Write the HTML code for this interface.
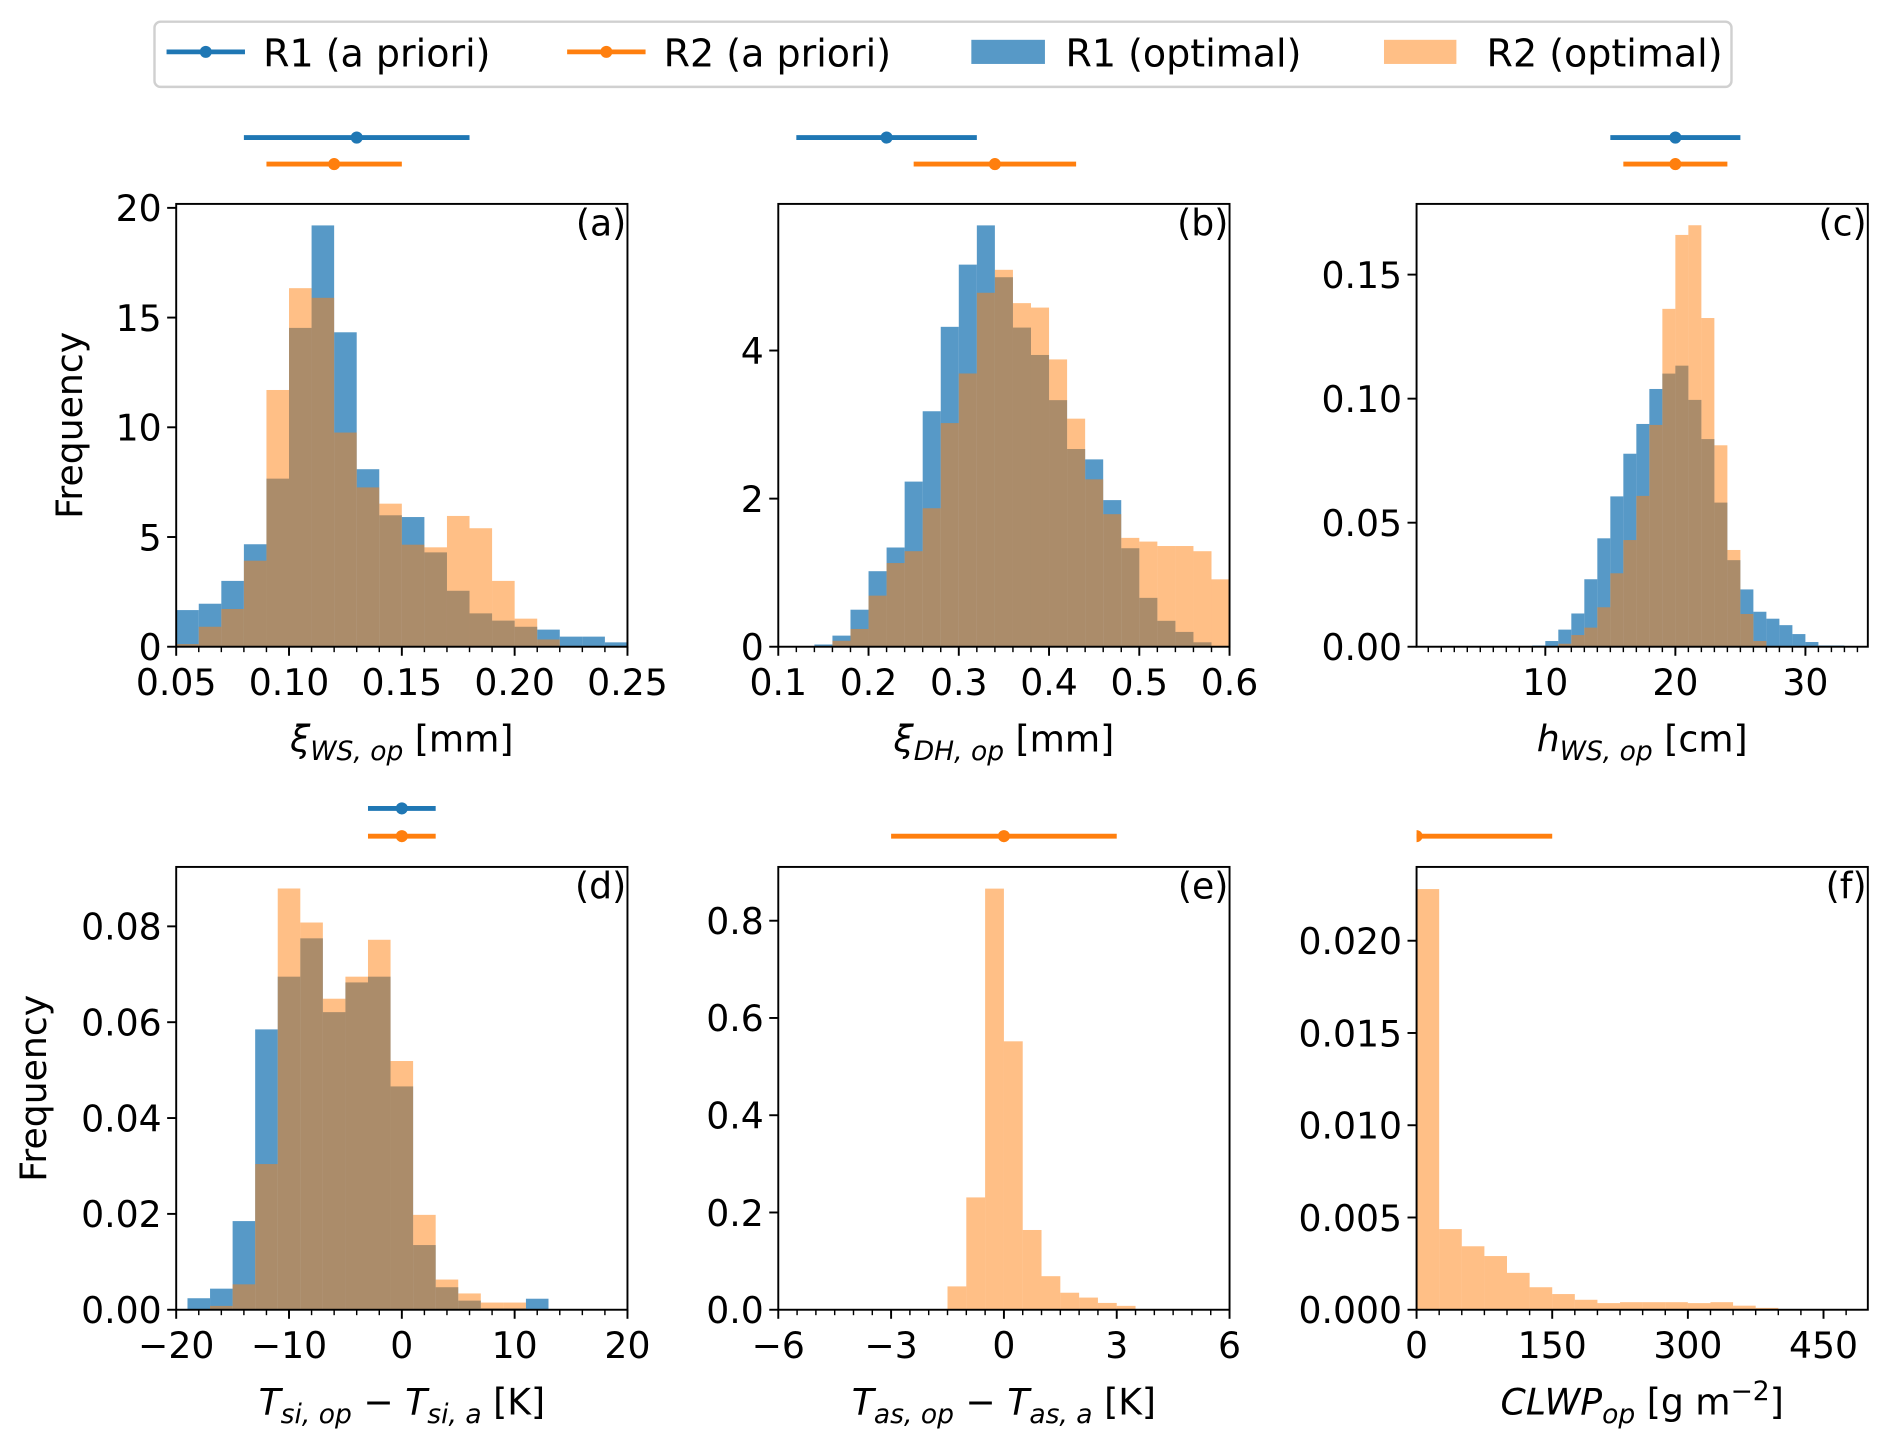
<!DOCTYPE html>
<html><head><meta charset="utf-8">
<style>
html,body{margin:0;padding:0;background:#fff;}
svg{display:block;font-family:"DejaVu Sans","Liberation Sans",sans-serif;}
</style></head>
<body>
<svg id="fig" width="1892" height="1452" viewBox="0 0 1568 1203.4" xmlns="http://www.w3.org/2000/svg">
<defs></defs>
<g id="legend">
  <rect x="128" y="18" width="1307" height="54" rx="5" fill="#fff" stroke="#d0d0d0" stroke-width="2"/>
  <g>
    <line x1="138" y1="43" x2="203" y2="43" stroke="#1f77b4" stroke-width="4"/>
    <circle cx="170.5" cy="43" r="5" fill="#1f77b4"/>
    <text x="218" y="55" font-size="31.5">R1 (a priori)</text>
  </g>
  <g>
    <line x1="470" y1="43" x2="535" y2="43" stroke="#ff7f0e" stroke-width="4"/>
    <circle cx="502.5" cy="43" r="5" fill="#ff7f0e"/>
    <text x="550" y="55" font-size="31.5">R2 (a priori)</text>
  </g>
  <g>
    <rect x="805" y="33" width="61" height="20" fill="#1f77b4" fill-opacity="0.75"/>
    <text x="883" y="55" font-size="31.5">R1 (optimal)</text>
  </g>
  <g>
    <rect x="1147" y="33" width="60" height="20" fill="#ff7f0e" fill-opacity="0.5"/>
    <text x="1232" y="55" font-size="31.5">R2 (optimal)</text>
  </g>
</g>
</svg>
<script>
// ---- data ----
const aBinStart = 0.05, aBinWidth = 0.01;
const aR1 = [1.67,1.96,3.0,4.67,7.66,14.53,19.2,14.33,8.09,5.99,5.91,4.3,2.55,1.52,1.19,0.91,0.78,0.46,0.46,0.2];
const aR2 = [0.12,0.91,1.72,3.92,11.7,16.34,15.9,9.76,7.26,6.52,4.65,4.53,5.96,5.4,3.0,1.28,0.33,0,0,0];
const bBinStart = 0.10, bBinWidth = 0.02;
const bR1 = [0,0,0.03,0.15,0.5,1.02,1.34,2.23,3.18,4.32,5.16,5.69,4.99,4.31,3.94,3.33,2.67,2.53,1.98,1.33,0.66,0.35,0.2,0.06,0];
const bR2 = [0,0,0,0.08,0.24,0.69,1.13,1.29,1.87,3.02,3.69,4.78,5.09,4.64,4.58,3.88,3.08,2.26,1.79,1.47,1.42,1.36,1.36,1.29,0.91];
const cBinStart = 9, cBinWidth = 1;
const cR1 = [0.0005,0.0023,0.0069,0.0134,0.0272,0.0437,0.0606,0.0778,0.0898,0.1039,0.1101,0.1133,0.0995,0.0837,0.0581,0.0349,0.0231,0.0141,0.0113,0.0087,0.0051,0.0019,0.0005,0.0005];
const cR2 = [0,0,0.0012,0.0047,0.0077,0.0159,0.0296,0.043,0.0608,0.0894,0.1362,0.166,0.1699,0.1325,0.0812,0.039,0.0132,0.0023,0,0,0,0,0,0];
const dBinStart = -19, dBinWidth = 2;
const dR1 = [0.0024,0.0044,0.0185,0.0585,0.0695,0.0775,0.0621,0.0683,0.0695,0.0466,0.0135,0.0047,0.0019,0.0003,0.0003,0.0023];
const dR2 = [0,0.0008,0.0053,0.0304,0.0879,0.0808,0.0649,0.0695,0.0772,0.0519,0.0198,0.0063,0.0034,0.0015,0.0015,0];
const eBinStart = -1.5, eBinWidth = 0.5;
const eR2 = [0.048,0.231,0.866,0.552,0.164,0.069,0.035,0.025,0.014,0.008];
const fBinStart = 0, fBinWidth = 25;
const fR2 = [0.0228,0.00437,0.00344,0.00291,0.002,0.00122,0.00085,0.00054,0.00036,0.00041,0.00041,0.00041,0.00036,0.00041,0.00022,0.0001];
// a priori (center, half-width) for R1 and R2 per panel
const aprioriR1 = [[0.13,0.05],[0.22,0.10],[20,5],[0,3],null,null];
const aprioriR2 = [[0.12,0.03],[0.34,0.09],[20,4],[0,3],[0,3],[0,150]];
// ticks
const aXTicks = [0.05,0.10,0.15,0.20,0.25], aXLabels = ["0.05","0.10","0.15","0.20","0.25"];
const aYTicks = [0,5,10,15,20], aYLabels = ["0","5","10","15","20"];
const bXTicks = [0.1,0.2,0.3,0.4,0.5,0.6], bXLabels = ["0.1","0.2","0.3","0.4","0.5","0.6"];
const bYTicks = [0,2,4], bYLabels = ["0","2","4"];
const cXTicks = [10,20,30], cXLabels = ["10","20","30"];
const cYTicks = [0,0.05,0.10,0.15], cYLabels = ["0.00","0.05","0.10","0.15"];
const dXTicks = [-20,-10,0,10,20], dXLabels = ["\u221220","\u221210","0","10","20"];
const dYTicks = [0,0.02,0.04,0.06,0.08], dYLabels = ["0.00","0.02","0.04","0.06","0.08"];
const eXTicks = [-6,-3,0,3,6], eXLabels = ["\u22126","\u22123","0","3","6"];
const eYTicks = [0,0.2,0.4,0.6,0.8], eYLabels = ["0.0","0.2","0.4","0.6","0.8"];
const fXTicks = [0,150,300,450], fXLabels = ["0","150","300","450"];
const fYTicks = [0,0.005,0.010,0.015,0.020], fYLabels = ["0.000","0.005","0.010","0.015","0.020"];

// ---- layout ----
const NS = "http://www.w3.org/2000/svg";
const svg = document.getElementById('fig');
const defs = svg.querySelector('defs');
const W = 374, H = 367, FS = 30;
const panels = [
 {id:'a',x0:146,y0:169,xlim:[0.05,0.25],ylim:[0,20.18],bs:aBinStart,bw:aBinWidth,r1:aR1,r2:aR2,xt:aXTicks,xl:aXLabels,yt:aYTicks,yl:aYLabels,minor:0.01,ylab:58},
 {id:'b',x0:645,y0:169,xlim:[0.1,0.6],ylim:[0,5.98],bs:bBinStart,bw:bBinWidth,r1:bR1,r2:bR2,xt:bXTicks,xl:bXLabels,yt:bYTicks,yl:bYLabels,minor:0.02},
 {id:'c',x0:1174,y0:169,xlim:[0.1,34.8],ylim:[0,0.1785],bs:cBinStart,bw:cBinWidth,r1:cR1,r2:cR2,xt:cXTicks,xl:cXLabels,yt:cYTicks,yl:cYLabels,minor:1},
 {id:'d',x0:146,y0:718.5,xlim:[-20,20],ylim:[0,0.0924],bs:dBinStart,bw:dBinWidth,r1:dR1,r2:dR2,xt:dXTicks,xl:dXLabels,yt:dYTicks,yl:dYLabels,minor:2,ylab:28},
 {id:'e',x0:645,y0:718.5,xlim:[-6,6],ylim:[0,0.9106],bs:eBinStart,bw:eBinWidth,r1:null,r2:eR2,xt:eXTicks,xl:eXLabels,yt:eYTicks,yl:eYLabels,minor:0.5},
 {id:'f',x0:1174,y0:718.5,xlim:[0,499],ylim:[0,0.024],bs:fBinStart,bw:fBinWidth,r1:null,r2:fR2,xt:fXTicks,xl:fXLabels,yt:fYTicks,yl:fYLabels,minor:25}
];
const xLabelsHTML = [
 '<tspan font-style="italic">ξ</tspan><tspan font-style="italic" font-size="22" dy="7">WS, op</tspan><tspan dy="-7"> [mm]</tspan>',
 '<tspan font-style="italic">ξ</tspan><tspan font-style="italic" font-size="22" dy="7">DH, op</tspan><tspan dy="-7"> [mm]</tspan>',
 '<tspan font-style="italic">h</tspan><tspan font-style="italic" font-size="22" dy="7">WS, op</tspan><tspan dy="-7"> [cm]</tspan>',
 '<tspan font-style="italic">T</tspan><tspan font-style="italic" font-size="22" dy="7">si, op</tspan><tspan dy="-7"> − </tspan><tspan font-style="italic">T</tspan><tspan font-style="italic" font-size="22" dy="7">si, a</tspan><tspan dy="-7"> [K]</tspan>',
 '<tspan font-style="italic">T</tspan><tspan font-style="italic" font-size="22" dy="7">as, op</tspan><tspan dy="-7"> − </tspan><tspan font-style="italic">T</tspan><tspan font-style="italic" font-size="22" dy="7">as, a</tspan><tspan dy="-7"> [K]</tspan>',
 '<tspan font-style="italic">CLWP</tspan><tspan font-style="italic" font-size="22" dy="7">op</tspan><tspan dy="-7"> [g m</tspan><tspan font-size="22" dy="-12">−2</tspan><tspan dy="12">]</tspan>'
];

function mk(tag, attrs, parent){
  const e = document.createElementNS(NS, tag);
  for (const k in attrs) e.setAttribute(k, attrs[k]);
  parent.appendChild(e);
  return e;
}
function sx(p,v){return p.x0+(v-p.xlim[0])/(p.xlim[1]-p.xlim[0])*W;}
function sy(p,v){return p.y0+H-(v-p.ylim[0])/(p.ylim[1]-p.ylim[0])*H;}

panels.forEach((p,i)=>{
  const g = mk('g',{},svg);
  
  
  const cp = mk('clipPath',{id:'clip-'+p.id},defs);
  mk('rect',{x:p.x0,y:p.y0,width:W,height:H},cp);
  const cpe = mk('clipPath',{id:'clipe-'+p.id},defs);
  mk('rect',{x:p.x0,y:p.y0-120,width:W,height:120},cpe);
  const bars = mk('g',{'clip-path':'url(#clip-'+p.id+')'},g);
  
  
  [[p.r1,'#1f77b4',0.75,'r1'],[p.r2,'#ff7f0e',0.5,'r2']].forEach(([arr,col,op,nm])=>{
    if(!arr) return;
    arr.forEach((v,k)=>{
      if(v<=0) return;
      const xa=sx(p,p.bs+k*p.bw), xb=sx(p,p.bs+(k+1)*p.bw), yt=sy(p,v), yb=sy(p,0);
      const r = mk('rect',{x:xa,y:yt,width:xb-xa,height:yb-yt,fill:col,'fill-opacity':op},bars);
      
      
    });
  });
  const eg = mk('g',{'clip-path':'url(#clipe-'+p.id+')'},g);
  
  
  const ey1 = i<3 ? 114 : 670, ey2 = i<3 ? 136 : 693;
  [[aprioriR1[i],'#1f77b4',ey1,'r1'],[aprioriR2[i],'#ff7f0e',ey2,'r2']].forEach(([ap,col,yy,nm])=>{
    if(!ap) return;
    const ln = mk('line',{x1:sx(p,ap[0]-ap[1]),x2:sx(p,ap[0]+ap[1]),y1:yy,y2:yy,stroke:col,'stroke-width':4},eg);
    
    
    const c = mk('circle',{cx:sx(p,ap[0]),cy:yy,r:5,fill:col},eg);
    
    
  });
  const fr = mk('rect',{x:p.x0,y:p.y0,width:W,height:H,fill:'none',stroke:'#000','stroke-width':1.6},g);
  
  
  const mg = mk('g',{stroke:'#000','stroke-width':1.2},g);
  
  
  const n0 = Math.ceil(p.xlim[0]/p.minor-1e-6), n1 = Math.floor(p.xlim[1]/p.minor+1e-6);
  for(let n=n0;n<=n1;n++){ const x=sx(p,n*p.minor); mk('line',{x1:x,x2:x,y1:p.y0+H,y2:p.y0+H+4.5},mg); }
  const xg = mk('g',{},g);
  
  
  p.xt.forEach((t,k)=>{
    const x=sx(p,t);
    mk('line',{x1:x,x2:x,y1:p.y0+H,y2:p.y0+H+7.5,stroke:'#000','stroke-width':1.6},xg);
    const tx = mk('text',{x:x,y:p.y0+H+40,'font-size':FS,'text-anchor':'middle'},xg);
    tx.textContent = p.xl[k];
    
    
  });
  const yg = mk('g',{},g);
  
  
  p.yt.forEach((t,k)=>{
    const y=sy(p,t);
    mk('line',{x1:p.x0-7.5,x2:p.x0,y1:y,y2:y,stroke:'#000','stroke-width':1.6},yg);
    const tx = mk('text',{x:p.x0-12,y:y+11,'font-size':FS,'text-anchor':'end'},yg);
    tx.textContent = p.yl[k];
    
    
  });
  const pt = mk('text',{x:p.x0+W-1,y:p.y0+26,'font-size':FS,'text-anchor':'end'},g);
  pt.textContent = '('+p.id+')';
  
  
  const xlb = mk('text',{x:p.x0+W/2,y:p.y0+H+87,'font-size':FS,'text-anchor':'middle'},g);
  xlb.innerHTML = xLabelsHTML[i];
  
  
  if(p.ylab){
    const cy = p.y0+H/2;
    const yl = mk('text',{x:p.ylab,y:cy,'font-size':FS,'text-anchor':'middle',transform:'rotate(-90 '+p.ylab+' '+cy+')',dy:10},g);
    yl.textContent = 'Frequency';
    
    
  }
});
</script>
</body></html>
